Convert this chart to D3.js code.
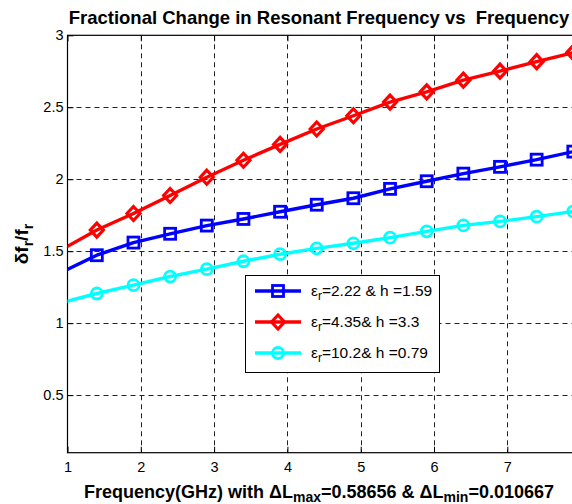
<!DOCTYPE html>
<html><head><meta charset="utf-8">
<script src="https://cdn.jsdelivr.net/npm/d3@7"></script>
<style>
html,body{margin:0;padding:0;background:#fff;}
svg{display:block;font-family:"Liberation Sans",Arial,sans-serif;}
</style></head>
<body>
<script>
// ---- data ----
const freq = [0.9,1.4,1.9,2.4,2.9,3.4,3.9,4.4,4.9,5.4,5.9,6.4,6.9,7.4,7.9];
const blueVals = [1.35,1.472,1.560,1.621,1.678,1.724,1.774,1.823,1.868,1.933,1.986,2.039,2.086,2.136,2.192];
const redVals  = [1.505,1.647,1.762,1.887,2.014,2.132,2.242,2.349,2.441,2.536,2.607,2.688,2.751,2.817,2.880];
const cyanVals = [1.14,1.206,1.264,1.324,1.375,1.430,1.479,1.520,1.555,1.594,1.638,1.679,1.707,1.740,1.776];
const seriesNames = ["2.22 & h =1.59","4.35& h =3.3","10.2& h =0.79"];
const xTicks = [1,2,3,4,5,6,7];
const yTicks = [0.5,1,1.5,2,2.5,3];

const W = 572, H = 504;
const L = 67.5, T = 35.3, R = 573.3, B = 452.7;
const svg = d3.select("body").append("svg").attr("width",W).attr("height",H);

const x = d3.scaleLinear().domain([1,7.9]).range([L,R]);
const y = d3.scaleLinear().domain([0.1,3]).range([B,T]);

// clip
svg.append("defs").append("clipPath").attr("id","plotclip")
  .append("rect").attr("x",L).attr("y",T).attr("width",R-L).attr("height",B-T);

// grid
const grid = svg.append("g").attr("stroke","#222").attr("stroke-width",1).attr("stroke-dasharray","5,4");
grid.selectAll(".vg").data(xTicks.filter(d=>d>1)).join("line")
  .attr("x1",d=>Math.round(x(d))+0.5).attr("x2",d=>Math.round(x(d))+0.5).attr("y1",T).attr("y2",B);
grid.selectAll(".hg").data(yTicks.filter(d=>d<3)).join("line")
  .attr("y1",d=>Math.round(y(d))+0.5).attr("y2",d=>Math.round(y(d))+0.5).attr("x1",L).attr("x2",R);

// axes
const xAxis = svg.append("g").attr("transform",`translate(0,${B})`)
  .call(d3.axisBottom(x).tickValues(xTicks).tickFormat(d3.format("d")).tickSizeInner(-6).tickSizeOuter(0).tickPadding(9));
const xAxisTop = svg.append("g").attr("transform",`translate(0,${T})`)
  .call(d3.axisTop(x).tickValues(xTicks).tickFormat("").tickSizeInner(-6).tickSizeOuter(0));
const yAxis = svg.append("g").attr("transform",`translate(${L},0)`)
  .call(d3.axisLeft(y).tickValues(yTicks).tickFormat(d=>String(d)).tickSizeInner(-6).tickSizeOuter(0).tickPadding(4));
[xAxis,xAxisTop,yAxis].forEach(g=>{
  g.select(".domain").remove();
  g.selectAll("line").attr("stroke","#000");
  g.selectAll("text").attr("fill","#000").attr("font-size","14.5px").attr("font-family","Liberation Sans, Arial, sans-serif");
});

// box
svg.append("rect").attr("x",L).attr("y",T).attr("width",R-L).attr("height",B-T)
  .attr("fill","none").attr("stroke","#000").attr("stroke-width",1.2);

// series
const series = [
  {vals: blueVals, color:"#0000ff", marker:"square"},
  {vals: redVals, color:"#ff0000", marker:"diamond"},
  {vals: cyanVals, color:"#00ffff", marker:"circle"}
];
const line = d3.line().x((d,i)=>x(freq[i])).y(d=>y(d));
function drawMarker(g, type, cx, cy, color){
  if(type==="square"){
    g.append("rect").attr("x",cx-5.5).attr("y",cy-5.5).attr("width",11).attr("height",11)
      .attr("fill","none").attr("stroke",color).attr("stroke-width",2.8);
  } else if(type==="diamond"){
    g.append("path").attr("d",`M${cx},${cy-7}L${cx+6.5},${cy}L${cx},${cy+7}L${cx-6.5},${cy}Z`)
      .attr("fill","none").attr("stroke",color).attr("stroke-width",3.2);
  } else {
    g.append("circle").attr("cx",cx).attr("cy",cy).attr("r",5.5)
      .attr("fill","none").attr("stroke",color).attr("stroke-width",2.8);
  }
}
series.forEach(s=>{
  svg.append("path").datum(s.vals).attr("clip-path","url(#plotclip)")
    .attr("d",line).attr("fill","none").attr("stroke",s.color).attr("stroke-width",3.4).attr("stroke-linejoin","round");
  const mg = svg.append("g");
  s.vals.forEach((v,i)=>{ if(freq[i]>=1) drawMarker(mg, s.marker, x(freq[i]), y(v), s.color); });
});

// legend
const lg = svg.append("g");
lg.append("rect").attr("x",245.5).attr("y",275.5).attr("width",194).attr("height",97)
  .attr("fill","#fff").attr("stroke","#000").attr("stroke-width",1);
series.forEach((s,i)=>{
  const yy = 291 + i*31;
  lg.append("line").attr("x1",255).attr("x2",301).attr("y1",yy).attr("y2",yy)
    .attr("stroke",s.color).attr("stroke-width",3.4);
  drawMarker(lg, s.marker, 278, yy, s.color);
  const t = lg.append("text").attr("x",311).attr("y",yy+5).attr("font-size","15.5px").attr("fill","#000");
  t.append("tspan").text("ε");
  t.append("tspan").attr("font-size","12px").attr("dy",4).text("r");
  t.append("tspan").attr("dy",-4).text("="+seriesNames[i]);
});

// title
svg.append("text").attr("x",319).attr("y",24).attr("text-anchor","middle")
  .attr("font-size","18.5px").attr("font-weight","bold").attr("xml:space","preserve")
  .text("Fractional Change in Resonant Frequency vs  Frequency");

// x label
const xl = svg.append("text").attr("x",319).attr("y",498).attr("text-anchor","middle")
  .attr("font-size","18px").attr("font-weight","bold");
xl.append("tspan").text("Frequency(GHz) with ΔL");
xl.append("tspan").attr("font-size","14px").attr("dy",3.5).text("max");
xl.append("tspan").attr("dy",-3.5).text("=0.58656 & ΔL");
xl.append("tspan").attr("font-size","14px").attr("dy",3.5).text("min");
xl.append("tspan").attr("dy",-3.5).text("=0.010667");

// y label
const yl = svg.append("text").attr("transform",`translate(28,${(T+B)/2}) rotate(-90)`)
  .attr("text-anchor","middle").attr("font-size","19px").attr("font-weight","bold");
yl.append("tspan").text("δf");
yl.append("tspan").attr("font-size","14px").attr("dy",5).text("r");
yl.append("tspan").attr("dy",-5).text("/f");
yl.append("tspan").attr("font-size","14px").attr("dy",5).text("r");
</script>
</body></html>
